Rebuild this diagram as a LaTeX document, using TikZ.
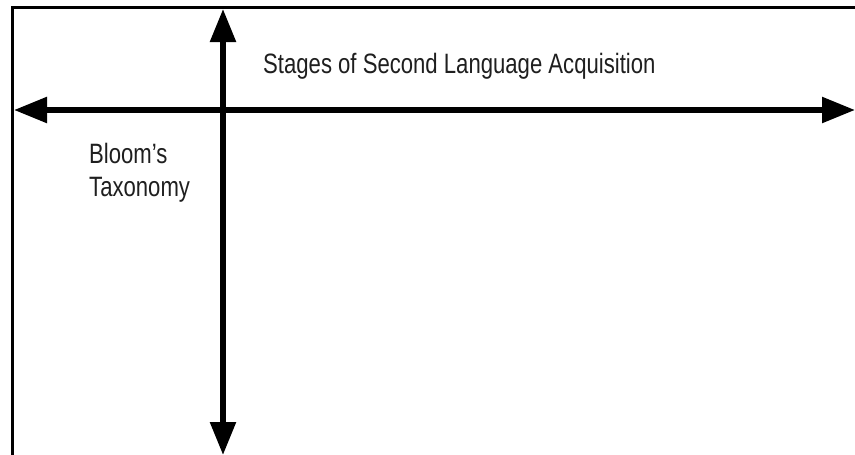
\documentclass[tikz,border=0pt]{standalone}
\usepackage{fontspec}
\setmainfont[FakeStretch=0.79]{Liberation Sans}
\usetikzlibrary{arrows.meta}
\tikzset{
  frameline/.style={line width=3pt, black},
  axisboth/.style={line width=5.5pt, black, {Triangle[length=33pt,width=25pt]}-{Triangle[length=33pt,width=25pt]}},
  label/.style={inner sep=0pt, anchor=base west, font=\fontsize{28pt}{33pt}\selectfont, text=black!88, align=left}
}
\begin{document}
\begin{tikzpicture}[x=1pt,y=-1pt]
\useasboundingbox (0,0) rectangle (855,455);
\fill[white] (0,0) rectangle (855,455);
% frame (top and left edges)
\coordinate (fTR) at (855,7.5);
\coordinate (fTL) at (12,7.5);
\coordinate (fBL) at (12,455);
\draw[frameline] (fTR) -- (fTL) -- (fBL);
% axes
\coordinate (hL) at (14,110);
\coordinate (hR) at (855,110);
\coordinate (vT) at (223,9);
\coordinate (vB) at (223,455);
\draw[axisboth] (hL) -- (hR);
\draw[axisboth] (vB) -- (vT);
% labels
\node[label] (stages) at (263,73) {Stages of Second Language Acquisition};
\node[label] (bloom) at (89,196) {Bloom’s\\Taxonomy};
\end{tikzpicture}
\end{document}
